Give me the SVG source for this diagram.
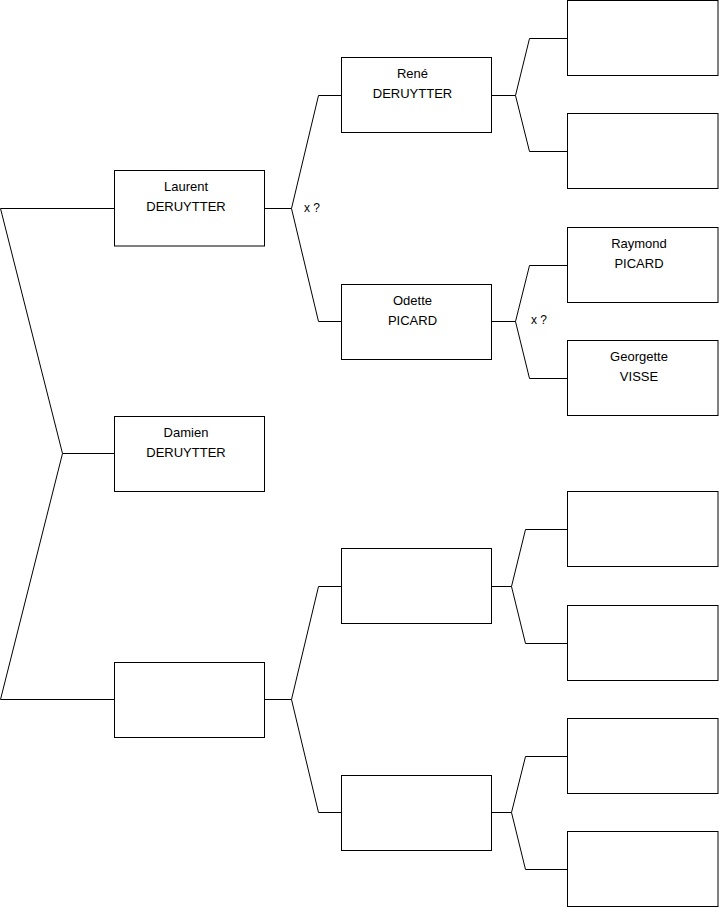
<svg xmlns="http://www.w3.org/2000/svg" width="719" height="908" viewBox="0 0 719 908">
<style>
rect{fill:#fff;stroke:#000;stroke-width:1}
.c path{fill:none;stroke:#000;stroke-width:1}
text{font-family:"Liberation Sans",Arial,sans-serif;font-size:13px;fill:#000;text-anchor:middle}
.l{font-size:12px;text-anchor:start}
</style>
<rect x="0" y="0" width="719" height="908" style="stroke:none"/>
<g class="c" id="connectors">
<path d="M114,208.5H0.5L62.5,453.5L0.5,699.5H114M62.5,453.5H114"/>
<path d="M265,208.5H291.5L318.5,95.5H341M291.5,208.5L318.5,321.5H341"/>
<path d="M265,699.5H291.5L318.5,586.5H341M291.5,699.5L318.5,812.5H341"/>
<path d="M492,95.5H515.5L529.5,38.5H567M515.5,95.5L529.5,151.5H567"/>
<path d="M492,321.5H515.5L529.5,265.5H567M515.5,321.5L529.5,378.5H567"/>
<path d="M492,586.5H511.5L525.5,529.5H567M511.5,586.5L525.5,643.5H567"/>
<path d="M492,812.5H511.5L525.5,756.5H567M511.5,812.5L525.5,869.5H567"/>
</g>
<text class="l" x="304" y="212">x ?</text>
<text class="l" x="531" y="324">x ?</text>
<g id="laurent"><rect x="114.5" y="170.5" width="150" height="75.5"/><text x="186" y="191">Laurent</text><text x="186" y="211">DERUYTTER</text></g>
<g id="damien"><rect x="114.5" y="416.5" width="150" height="75"/><text x="186" y="437">Damien</text><text x="186" y="457">DERUYTTER</text></g>
<g id="p3"><rect x="114.5" y="662.5" width="150" height="75"/></g>
<g id="rene"><rect x="341.5" y="57.5" width="150" height="75"/><text x="412.5" y="78">René</text><text x="412.5" y="98">DERUYTTER</text></g>
<g id="odette"><rect x="341.5" y="284.5" width="150" height="75"/><text x="412.5" y="305">Odette</text><text x="412.5" y="325">PICARD</text></g>
<g id="p6"><rect x="341.5" y="548.5" width="150" height="75"/></g>
<g id="p7"><rect x="341.5" y="775.5" width="150" height="75"/></g>
<g id="g1"><rect x="567.5" y="0.5" width="150.5" height="75"/></g>
<g id="g2"><rect x="567.5" y="113.5" width="150.5" height="75"/></g>
<g id="raymond"><rect x="567.5" y="227.5" width="150.5" height="75"/><text x="639" y="248">Raymond</text><text x="639" y="268">PICARD</text></g>
<g id="georgette"><rect x="567.5" y="340.5" width="150.5" height="75"/><text x="639" y="361">Georgette</text><text x="639" y="381">VISSE</text></g>
<g id="g5"><rect x="567.5" y="491.5" width="150.5" height="75"/></g>
<g id="g6"><rect x="567.5" y="605.5" width="150.5" height="75"/></g>
<g id="g7"><rect x="567.5" y="718.5" width="150.5" height="75"/></g>
<g id="g8"><rect x="567.5" y="831.5" width="150.5" height="75"/></g>
</svg>
